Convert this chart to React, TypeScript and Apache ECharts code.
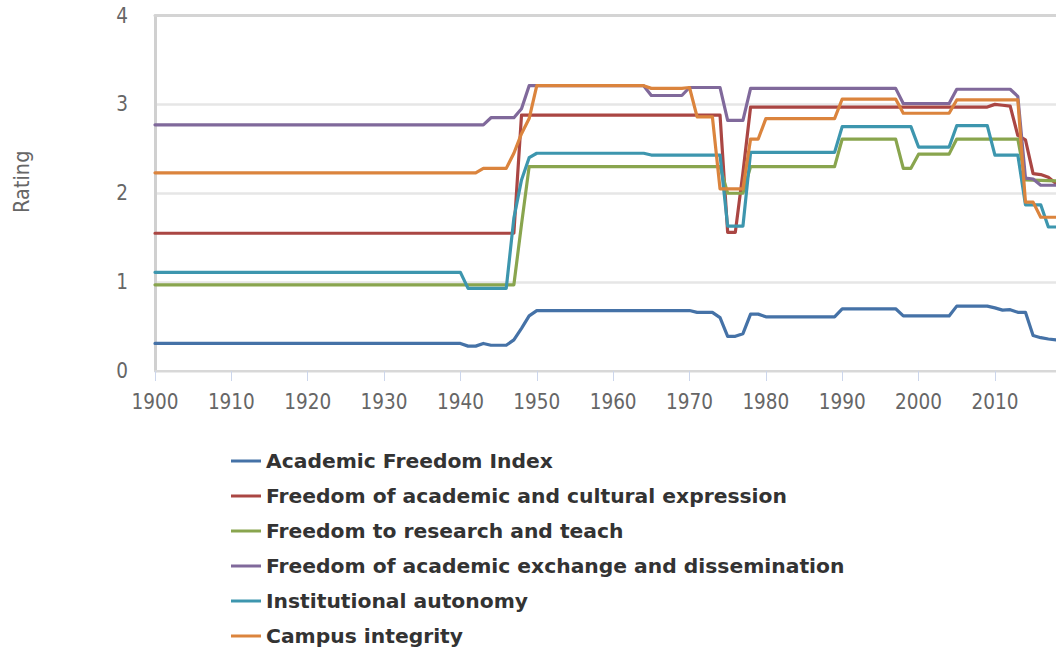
import React, { useEffect, useRef } from "react";
import * as echarts from "echarts";

const seriesNames: string[] = [
  "Academic Freedom Index",
  "Freedom of academic and cultural expression",
  "Freedom to research and teach",
  "Freedom of academic exchange and dissemination",
  "Institutional autonomy",
  "Campus integrity",
];

const seriesColors: string[] = ["#4572A7", "#AA4643", "#89A54E", "#80699B", "#3D96AE", "#DB843D"];

const yTicks: number[] = [0, 1, 2, 3, 4];

// [year, rating] at each change point
const academicFreedomIndex: [number, number][] = [
  [1900, 0.31], [1940, 0.31], [1941, 0.28], [1942, 0.28], [1943, 0.31], [1944, 0.29], [1946, 0.29],
  [1947, 0.35], [1948, 0.48], [1949, 0.62], [1950, 0.68], [1970, 0.68], [1971, 0.66], [1973, 0.66],
  [1974, 0.6], [1975, 0.39], [1976, 0.39], [1977, 0.42], [1978, 0.64], [1979, 0.64], [1980, 0.61],
  [1989, 0.61], [1990, 0.7], [1997, 0.7], [1998, 0.62], [2004, 0.62], [2005, 0.73], [2009, 0.73],
  [2010, 0.71], [2011, 0.685], [2012, 0.69], [2013, 0.66], [2014, 0.66], [2015, 0.4], [2016, 0.375],
  [2017, 0.36], [2018, 0.35],
];

const culturalExpression: [number, number][] = [
  [1900, 1.55], [1947, 1.55], [1948, 2.88], [1974, 2.88], [1975, 1.56], [1976, 1.56], [1977, 2.23],
  [1978, 2.97], [2009, 2.97], [2010, 3.0], [2011, 2.99], [2012, 2.98], [2013, 2.65], [2014, 2.6],
  [2015, 2.22], [2016, 2.21], [2017, 2.18], [2018, 2.11],
];

const researchTeach: [number, number][] = [
  [1900, 0.97], [1947, 0.97], [1948, 1.65], [1949, 2.3], [1974, 2.3], [1975, 2.0], [1977, 2.0],
  [1978, 2.3], [1989, 2.3], [1990, 2.61], [1997, 2.61], [1998, 2.28], [1999, 2.28], [2000, 2.44],
  [2004, 2.44], [2005, 2.61], [2013, 2.61], [2014, 2.15], [2018, 2.14],
];

const exchangeDissemination: [number, number][] = [
  [1900, 2.77], [1943, 2.77], [1944, 2.85], [1947, 2.85], [1948, 2.95], [1949, 3.21], [1964, 3.21],
  [1965, 3.1], [1969, 3.1], [1970, 3.19], [1974, 3.19], [1975, 2.82], [1977, 2.82], [1978, 3.18],
  [1997, 3.18], [1998, 3.01], [2004, 3.01], [2005, 3.17], [2012, 3.17], [2013, 3.09], [2014, 2.17],
  [2015, 2.16], [2016, 2.09], [2018, 2.09],
];

const institutionalAutonomy: [number, number][] = [
  [1900, 1.11], [1940, 1.11], [1941, 0.93], [1946, 0.93], [1947, 1.72], [1948, 2.15], [1949, 2.4],
  [1950, 2.45], [1964, 2.45], [1965, 2.43], [1974, 2.43], [1975, 1.63], [1977, 1.63], [1978, 2.46],
  [1989, 2.46], [1990, 2.75], [1999, 2.75], [2000, 2.52], [2004, 2.52], [2005, 2.76], [2009, 2.76],
  [2010, 2.43], [2013, 2.43], [2014, 1.87], [2016, 1.87], [2017, 1.62], [2018, 1.62],
];

const campusIntegrity: [number, number][] = [
  [1900, 2.23], [1942, 2.23], [1943, 2.28], [1946, 2.28], [1947, 2.45], [1948, 2.67], [1949, 2.84],
  [1950, 3.21], [1964, 3.21], [1965, 3.18], [1969, 3.18], [1970, 3.19], [1971, 2.86], [1973, 2.86],
  [1974, 2.05], [1977, 2.05], [1978, 2.61], [1979, 2.61], [1980, 2.84], [1989, 2.84], [1990, 3.06],
  [1997, 3.06], [1998, 2.9], [2004, 2.9], [2005, 3.05], [2013, 3.05], [2014, 1.9], [2015, 1.9],
  [2016, 1.73], [2018, 1.73],
];

const seriesData = [
  academicFreedomIndex,
  culturalExpression,
  researchTeach,
  exchangeDissemination,
  institutionalAutonomy,
  campusIntegrity,
];

const FONT = '"DejaVu Sans Condensed", "DejaVu Sans", sans-serif';
const LEGEND_FONT = '"DejaVu Sans", sans-serif';

export default function App() {
  const ref = useRef<HTMLDivElement>(null);

  useEffect(() => {
    if (!ref.current) return;
    const chart = echarts.init(ref.current, null, { renderer: "svg" });
    const option: any = {
      animation: false,
      backgroundColor: "#ffffff",
      textStyle: { fontFamily: FONT },
      grid: { left: 155, top: 15.5, right: 0, bottom: 277, containLabel: false },
      legend: {
        type: "plain",
        orient: "vertical",
        left: 231,
        top: 451,
        height: 240,
        padding: 0,
        icon: "rect",
        itemWidth: 30,
        itemHeight: 3,
        itemGap: 15,
        data: seriesNames,
        textStyle: {
          fontFamily: LEGEND_FONT,
          fontSize: 20.3,
          fontWeight: "bold",
          color: "#333333",
          lineHeight: 20,
        },
      },
      xAxis: [
        {
          type: "value",
          min: 1900,
          max: 2018,
          interval: 10,
          position: "bottom",
          axisLine: { show: true, lineStyle: { color: "#d8d8d8", width: 2 } },
          axisTick: { show: true, length: 10, lineStyle: { color: "#ccd6eb", width: 1 } },
          axisLabel: {
            show: true,
            margin: 20,
            fontFamily: FONT,
            fontSize: 20.5,
            color: "#666666",
            showMaxLabel: false,
            formatter: (v: number) => String(v),
          },
          splitLine: { show: false },
        },
        {
          type: "value",
          min: 1900,
          max: 2018,
          interval: 10,
          position: "top",
          axisLine: { show: true, lineStyle: { color: "#d4d4d4", width: 3 } },
          axisTick: { show: false },
          axisLabel: { show: false },
          splitLine: { show: false },
        },
      ],
      yAxis: {
        type: "value",
        min: yTicks[0],
        max: yTicks[yTicks.length - 1],
        interval: 1,
        name: "Rating",
        nameLocation: "middle",
        nameRotate: 90,
        nameGap: 123,
        nameTextStyle: {
          fontFamily: FONT,
          fontSize: 21.5,
          color: "#666666",
          padding: [0, 0, 0, 23],
        },
        axisLine: { show: true, lineStyle: { color: "#d0d0d0", width: 3 } },
        axisTick: { show: false },
        axisLabel: {
          margin: 27,
          fontFamily: FONT,
          fontSize: 20.5,
          color: "#666666",
          padding: [6, 0, 0, 0],
        },
        splitLine: { show: true, lineStyle: { color: "#e6e6e6", width: 2.5 } },
      },
      series: seriesNames.map((name, i) => ({
        name,
        type: "line",
        xAxisIndex: 0,
        data: seriesData[i],
        showSymbol: false,
        symbol: "none",
        color: seriesColors[i],
        lineStyle: { width: 3.2, color: seriesColors[i], join: "round", cap: "round" },
        emphasis: { disabled: true },
      })),
    };
    chart.setOption(option);
    return () => {
      chart.dispose();
    };
  }, []);

  return (
    <div
      ref={ref}
      style={{ position: "fixed", left: 0, top: 0, width: 1056, height: 648, background: "#fff" }}
    />
  );
}
